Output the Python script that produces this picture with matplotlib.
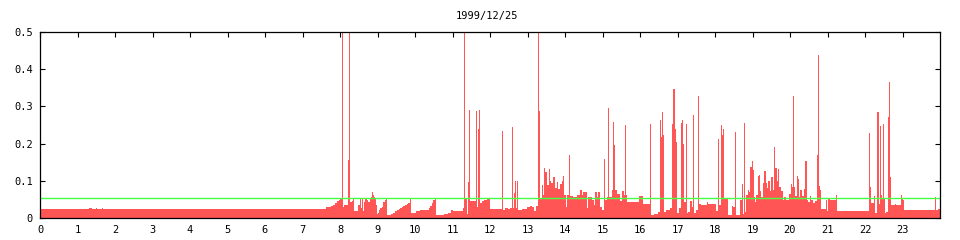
import matplotlib
matplotlib.use("Agg")
import matplotlib.pyplot as plt

# Load values (step start hour, level).
# Each level holds until the next start; the last block runs to 24:00.
night = [(0.00, 0.023), (1.30, 0.025), (1.38, 0.023), (1.49, 0.025), (1.53, 0.023),
         (1.65, 0.025), (1.69, 0.023), (7.63, 0.028), (7.75, 0.031), (7.82, 0.035),
         (7.87, 0.040), (7.91, 0.044), (7.96, 0.049), (8.00, 0.050)]

morning = [(8.05, 0.6), (8.075, 0.029), (8.11, 0.034), (8.213, 0.156), (8.24, 0.6),
           (8.267, 0.042), (8.31, 0.046), (8.356, 0.052), (8.38, 0.018), (8.489, 0.034),
           (8.533, 0.052), (8.56, 0.026), (8.587, 0.052), (8.613, 0.018), (8.64, 0.041),
           (8.667, 0.052), (8.711, 0.048), (8.756, 0.041), (8.80, 0.050), (8.827, 0.055),
           (8.862, 0.068), (8.88, 0.062), (8.907, 0.057), (8.943, 0.052), (8.969, 0.035),
           (8.996, 0.010), (9.031, 0.022), (9.067, 0.026), (9.111, 0.030), (9.156, 0.041),
           (9.20, 0.047), (9.227, 0.052), (9.253, 0.008), (9.35, 0.011), (9.42, 0.014),
           (9.47, 0.017), (9.51, 0.020), (9.56, 0.023), (9.60, 0.026), (9.64, 0.029),
           (9.69, 0.031), (9.73, 0.033), (9.78, 0.036), (9.82, 0.040), (9.867, 0.052),
           (9.893, 0.012), (9.96, 0.014), (10.04, 0.018), (10.13, 0.021), (10.27, 0.022),
           (10.36, 0.025), (10.40, 0.031), (10.44, 0.039), (10.49, 0.048), (10.53, 0.052),
           (10.556, 0.007), (10.76, 0.010), (10.89, 0.013), (10.96, 0.020), (11.00, 0.017),
           (11.18, 0.019), (11.27, 0.025), (11.31, 0.6), (11.333, 0.052), (11.378, 0.011),
           (11.404, 0.096), (11.44, 0.290), (11.467, 0.045), (11.618, 0.288), (11.644, 0.030),
           (11.689, 0.240), (11.716, 0.290), (11.742, 0.040), (11.796, 0.044), (11.849, 0.048),
           (11.911, 0.052)]

midday = [(12.00, 0.023), (12.329, 0.234), (12.356, 0.022), (12.40, 0.025), (12.49, 0.023),
          (12.53, 0.026), (12.596, 0.245), (12.62, 0.026), (12.64, 0.067), (12.667, 0.098),
          (12.693, 0.025), (12.72, 0.100), (12.747, 0.022), (12.853, 0.023), (12.98, 0.028),
          (13.07, 0.031), (13.11, 0.028), (13.16, 0.077), (13.18, 0.019), (13.22, 0.031),
          (13.27, 0.6), (13.295, 0.288), (13.32, 0.260), (13.345, 0.050), (13.39, 0.088),
          (13.42, 0.061), (13.45, 0.135), (13.47, 0.124), (13.51, 0.088), (13.56, 0.084),
          (13.58, 0.130), (13.61, 0.100), (13.63, 0.093), (13.67, 0.121), (13.69, 0.110),
          (13.73, 0.079), (13.78, 0.097), (13.82, 0.077), (13.87, 0.091), (13.91, 0.100),
          (13.94, 0.113), (13.96, 0.280), (13.985, 0.061), (14.02, 0.028), (14.06, 0.061),
          (14.10, 0.170), (14.125, 0.058), (14.22, 0.057), (14.31, 0.061), (14.40, 0.075),
          (14.44, 0.061), (14.49, 0.070), (14.58, 0.025), (14.62, 0.057), (14.71, 0.048),
          (14.76, 0.034), (14.80, 0.070), (14.84, 0.057), (14.89, 0.070), (14.93, 0.028),
          (14.98, 0.022), (15.04, 0.157), (15.065, 0.048), (15.11, 0.055), (15.155, 0.296),
          (15.18, 0.057), (15.24, 0.075), (15.285, 0.259), (15.31, 0.196), (15.335, 0.075),
          (15.38, 0.065), (15.47, 0.045), (15.51, 0.073), (15.56, 0.061), (15.60, 0.250),
          (15.625, 0.061), (15.66, 0.041), (15.98, 0.058), (16.09, 0.037), (16.265, 0.253),
          (16.29, 0.007), (16.36, 0.010), (16.47, 0.015), (16.53, 0.263), (16.555, 0.218),
          (16.58, 0.286), (16.60, 0.223), (16.64, 0.016), (16.68, 0.021), (16.80, 0.025),
          (16.84, 0.253), (16.87, 0.246), (16.89, 0.346), (16.92, 0.238), (16.96, 0.205),
          (16.99, 0.013)]

afternoon = [(17.04, 0.025), (17.09, 0.256), (17.13, 0.264), (17.155, 0.200), (17.18, 0.042),
             (17.23, 0.253), (17.255, 0.013), (17.29, 0.015), (17.33, 0.044), (17.38, 0.029),
             (17.41, 0.277), (17.435, 0.014), (17.49, 0.020), (17.55, 0.329), (17.575, 0.038),
             (17.63, 0.035), (17.78, 0.042), (17.82, 0.038), (18.02, 0.018), (18.08, 0.213),
             (18.105, 0.034), (18.16, 0.250), (18.19, 0.223), (18.22, 0.240), (18.25, 0.052),
             (18.34, 0.007), (18.44, 0.031), (18.49, 0.029), (18.53, 0.232), (18.555, 0.008),
             (18.67, 0.049), (18.71, 0.091), (18.74, 0.010), (18.77, 0.256), (18.795, 0.015),
             (18.83, 0.062), (18.87, 0.074), (18.90, 0.070), (18.94, 0.136), (18.98, 0.152),
             (19.00, 0.128), (19.04, 0.055), (19.07, 0.042), (19.10, 0.060), (19.14, 0.113),
             (19.17, 0.116), (19.21, 0.071), (19.24, 0.055), (19.29, 0.093), (19.31, 0.125),
             (19.35, 0.094), (19.38, 0.080), (19.42, 0.100), (19.47, 0.071), (19.50, 0.109),
             (19.54, 0.075), (19.565, 0.190), (19.59, 0.134), (19.65, 0.098), (19.69, 0.132),
             (19.71, 0.082), (19.76, 0.071), (19.80, 0.047), (19.84, 0.055), (19.90, 0.047),
             (19.96, 0.064), (20.02, 0.091), (20.05, 0.082), (20.075, 0.329), (20.10, 0.082),
             (20.14, 0.058), (20.18, 0.113), (20.20, 0.105), (20.25, 0.056)]

evening = [(20.27, 0.075), (20.31, 0.058), (20.36, 0.050), (20.38, 0.077), (20.41, 0.154),
           (20.45, 0.047), (20.49, 0.041), (20.53, 0.058), (20.56, 0.049), (20.60, 0.046),
           (20.62, 0.040), (20.67, 0.044), (20.71, 0.168), (20.735, 0.439), (20.76, 0.085),
           (20.79, 0.074), (20.82, 0.023), (20.96, 0.048), (20.99, 0.019), (21.02, 0.052),
           (21.07, 0.049), (21.09, 0.048), (21.23, 0.060), (21.25, 0.018), (21.42, 0.017),
           (22.11, 0.228), (22.14, 0.083), (22.17, 0.040), (22.23, 0.059), (22.27, 0.013),
           (22.31, 0.259), (22.33, 0.286), (22.36, 0.037), (22.39, 0.248), (22.42, 0.061),
           (22.46, 0.050), (22.48, 0.253), (22.505, 0.053), (22.53, 0.012), (22.56, 0.015),
           (22.61, 0.272), (22.64, 0.367), (22.67, 0.110), (22.69, 0.035), (22.80, 0.037),
           (22.83, 0.034), (22.96, 0.061), (22.99, 0.053), (23.01, 0.049), (23.04, 0.021),
           (23.87, 0.056), (23.895, 0.022), (23.95, 0.023)]

threshold = 0.052
title = "1999/12/25"
hour_ticks = list(range(24))
y_ticks = [0, 0.1, 0.2, 0.3, 0.4, 0.5]
y_tick_labels = ["0", "0.1", "0.2", "0.3", "0.4", "0.5"]

steps = night + morning + midday + afternoon + evening
edges = [t for t, _ in steps] + [24.0]
levels = [v for _, v in steps]

plt.rcParams["font.family"] = ["DejaVu Sans Mono"]

fig = plt.figure(figsize=(9.6, 2.4), dpi=100)
ax = fig.add_axes([40 / 960, 1 - 217.7 / 240, 900 / 960, 185.4 / 240])

ax.stairs(levels, edges, fill=True, color="#ff5555", linewidth=0, zorder=2)
ax.axhline(threshold, color="#44ff44", linewidth=1.0, zorder=3)

ax.set_xlim(0, 24)
ax.set_ylim(0, 0.5)
ax.set_xticks(hour_ticks)
ax.set_xticklabels([str(h) for h in hour_ticks])
ax.set_yticks(y_ticks)
ax.set_yticklabels(y_tick_labels)

ax.tick_params(direction="in", length=3.6, width=0.8, top=True, right=True,
               labelsize=7.5, pad=5, colors="black")
for side in ax.spines.values():
    side.set_linewidth(0.9)
    side.set_zorder(4)

fig.text(0.507, 0.935, title, ha="center", va="center", fontsize=7.5)

plt.savefig("out.png", dpi=100)
plt.close()
